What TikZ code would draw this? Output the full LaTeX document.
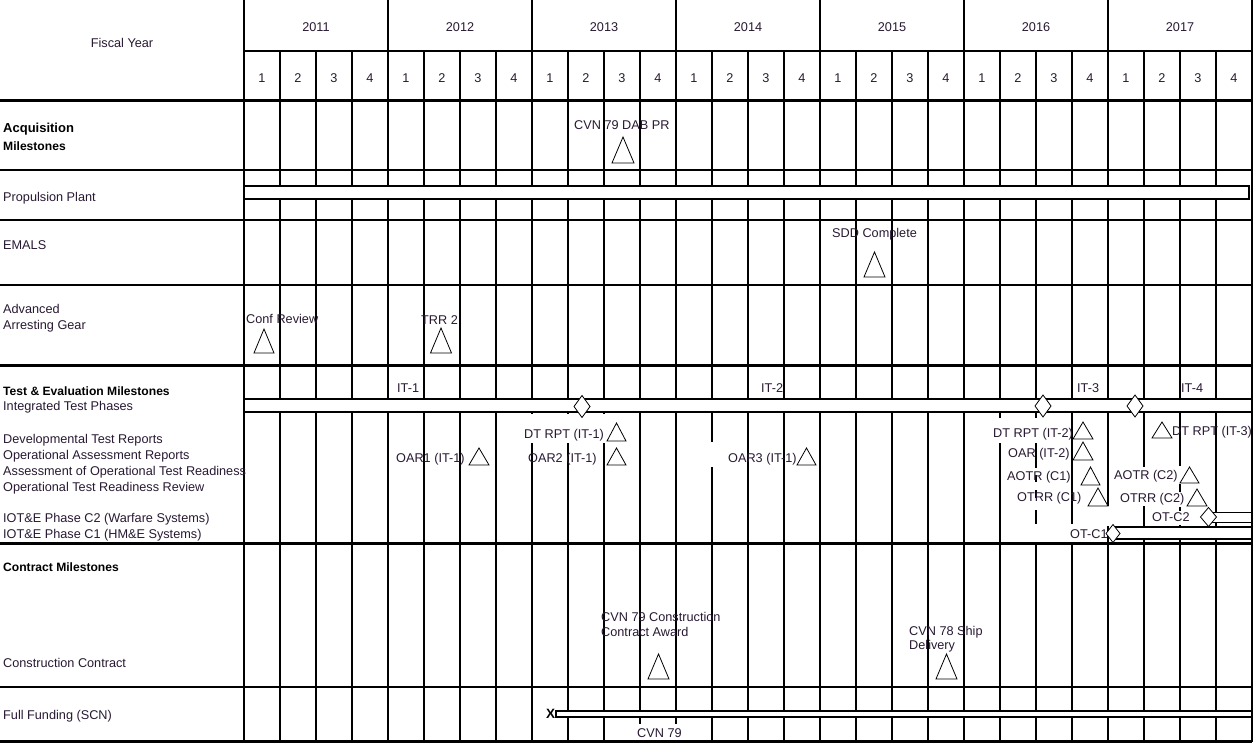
\documentclass[tikz,border=0pt]{standalone}
\usepackage{fontspec}
\setmainfont{Liberation Sans}
\definecolor{txt}{RGB}{40,25,50}
\tikzset{
  gridline/.style={line width=1.1pt, line cap=rect},
  thickrule/.style={line width=3pt},
  lab/.style={inner sep=0pt, anchor=base west, text=txt, font=\fontsize{12.7pt}{14pt}\selectfont},
  clab/.style={lab, anchor=base},
  blab/.style={lab, text=black, font=\fontsize{12.1pt}{14pt}\selectfont\bfseries},
  ms/.style={draw, line width=0.8pt, fill=white},
  barbox/.style={draw, line width=1.1pt, fill=white},
  mask/.style={fill=white, draw=none}
}
\newcommand{\mstri}[4]{\draw[ms] (#1-#3/2,#2+#4) -- (#1,#2) -- (#1+#3/2,#2+#4) -- cycle;}
\newcommand{\msdia}[4]{\draw[ms] (#1,#2-#4/2) -- (#1+#3/2,#2) -- (#1,#2+#4/2) -- (#1-#3/2,#2) -- cycle;}
\begin{document}
\begin{tikzpicture}[x=1pt,y=-1pt]
\useasboundingbox (0,0) rectangle (1253,743);
% ---- grid
\foreach \i in {1,...,27} \draw[gridline] (244+36*\i,51) -- (244+36*\i,741);
\foreach \i in {0,4,...,28} \draw[gridline] (244+36*\i,0) -- (244+36*\i,741);
\draw[gridline] (244,51) -- (1252,51);
\foreach \y in {170,220,285,687} \draw[gridline] (0,\y) -- (1252,\y);
% ---- bars
\draw[barbox] (244,186) rectangle (1249,199);
\draw[barbox] (244,399) rectangle (1252,412);
\draw[barbox] (1209,512.5) rectangle (1252,522.5);
\draw[barbox] (1113,527) rectangle (1252,539);
\draw[barbox] (556,711) rectangle (1252,717);
% ---- masks where labels hide the grid
\fill[mask] (518,414) rectangle (606,443);
\fill[mask] (705,442) rectangle (720,467);
\fill[mask] (988,418) rectangle (1071,443);
\fill[mask] (1030,468) rectangle (1042,475);
\fill[mask] (1030,482) rectangle (1042,490);
\fill[mask] (1030,498) rectangle (1042,510);
\fill[mask] (1028,524) rectangle (1106,541.5);
\fill[mask] (1104,506) rectangle (1112,525.5);
\fill[mask] (1112,467) rectangle (1178,506);
\fill[mask] (1175,466) rectangle (1185,484);
\fill[mask] (1175,492) rectangle (1185,507);
\fill[mask] (1148,511) rectangle (1197,524.5);
\fill[mask] (634,724) rectangle (684,740);
% ---- thick rules
\foreach \y in {101,365,543,741} \draw[thickrule] (0,\y) -- (1252,\y);
% ---- header
\node[clab] (fy) at (122,47.4) {Fiscal Year};
\foreach \yr [count=\k from 0] in {2011,...,2017}
  \node[clab] (yr\k) at (316+144*\k,31.4) {\yr};
\foreach \i in {0,...,27} {
  \pgfmathtruncatemacro\q{mod(\i,4)+1}
  \node[clab] (q\i) at (262+36*\i,82.4) {\q};
}
% ---- row labels
\node[blab, font=\fontsize{13pt}{14pt}\selectfont\bfseries] (acq) at (3,132.6) {Acquisition};
\node[blab] (acq2) at (3,150.3) {Milestones};
\node[lab] (prop) at (3,201.5) {Propulsion Plant};
\node[lab] (emals) at (3,249.5) {EMALS};
\node[lab] (aag1) at (3,313.5) {Advanced};
\node[lab] (aag2) at (3,329.5) {Arresting Gear};
\node[blab] (te) at (3,395.4) {Test \& Evaluation Milestones};
\node[lab] (itp) at (3,410.5) {Integrated Test Phases};
\node[lab] (dtr) at (3,443.5) {Developmental Test Reports};
\node[lab] (oar) at (3,459.5) {Operational Assessment Reports};
\node[lab] (aotr) at (3,475.5) {Assessment of Operational Test Readiness};
\node[lab] (otrr) at (3,491.5) {Operational Test Readiness Review};
\node[lab] (c2) at (3,522.5) {IOT\&E Phase C2 (Warfare Systems)};
\node[lab] (c1) at (3,538.5) {IOT\&E Phase C1 (HM\&E Systems)};
\node[blab] (cm) at (3,571.4) {Contract Milestones};
\node[lab] (cc) at (3,667.5) {Construction Contract};
\node[lab] (ff) at (3,719.5) {Full Funding (SCN)};
% ---- diamonds
\msdia{582}{406.5}{16}{22}
\msdia{1043}{406}{16}{22}
\msdia{1135}{406}{16}{22}
\msdia{1208.5}{517}{16}{19}
\msdia{1113}{533.5}{14}{18}
% ---- triangles
\mstri{623}{137}{22}{26}
\mstri{874.5}{252}{21}{25}
\mstri{264}{329}{20}{24}
\mstri{441}{328}{21}{25}
\mstri{616.5}{423}{19}{18}
\mstri{479}{448}{20}{17}
\mstri{616.5}{448}{19}{17}
\mstri{806.5}{448}{19}{17}
\mstri{1083}{422}{20}{17}
\mstri{1083}{442}{20}{18}
\mstri{1090.5}{467}{19}{18}
\mstri{1098}{488}{20}{18}
\mstri{1162}{422}{20}{16}
\mstri{1189.5}{467}{19}{16}
\mstri{1197}{489}{20}{17}
\mstri{658.5}{654}{21}{25}
\mstri{946.5}{654}{21}{25}
% ---- milestone texts
\node[lab] (dab) at (574,129.5) {CVN 79 DAB PR};
\node[lab] (sdd) at (832,237.5) {SDD Complete};
\node[lab] (conf) at (246,323.5) {Conf Review};
\node[lab] (trr) at (421,324.5) {TRR 2};
\node[lab] (it1) at (397,392.5) {IT-1};
\node[lab] (it2) at (761,392.5) {IT-2};
\node[lab] (it3) at (1077,392.5) {IT-3};
\node[lab] (it4) at (1181,392.5) {IT-4};
\node[lab] (dt1) at (524,438.5) {DT RPT (IT-1)};
\node[lab] (oar1) at (396,462.5) {OAR1 (IT-1)};
\node[lab] (oar2) at (528,462.5) {OAR2 (IT-1)};
\node[lab] (oar3) at (728,462.5) {OAR3 (IT-1)};
\node[lab] (dt2) at (993,437.5) {DT RPT (IT-2)};
\node[lab] (oarit2) at (1008,457.5) {OAR (IT-2)};
\node[lab] (aotr1) at (1007,480.5) {AOTR (C1)};
\node[lab] (otrr1) at (1017,501.5) {OTRR (C1)};
\node[lab] (dt3) at (1172,435.5) {DT RPT (IT-3)};
\node[lab] (aotr2) at (1114,479.5) {AOTR (C2)};
\node[lab] (otrr2) at (1120,502.5) {OTRR (C2)};
\node[lab] (otc2) at (1152,521.5) {OT-C2};
\node[lab] (otc1) at (1070,538.5) {OT-C1};
\node[lab] (cvn79a) at (601,621.5) {CVN 79 Construction};
\node[lab] (cvn79b) at (601,636.5) {Contract Award};
\node[lab] (cvn78a) at (909,635.5) {CVN 78 Ship};
\node[lab] (cvn78b) at (909,649.5) {Delivery};
\node[inner sep=0pt, font=\fontsize{13.5pt}{14pt}\selectfont\bfseries] (xmark) at (550.5,714) {X};
\node[lab] (cvn79c) at (637,737.5) {CVN 79};
\end{tikzpicture}
\end{document}
